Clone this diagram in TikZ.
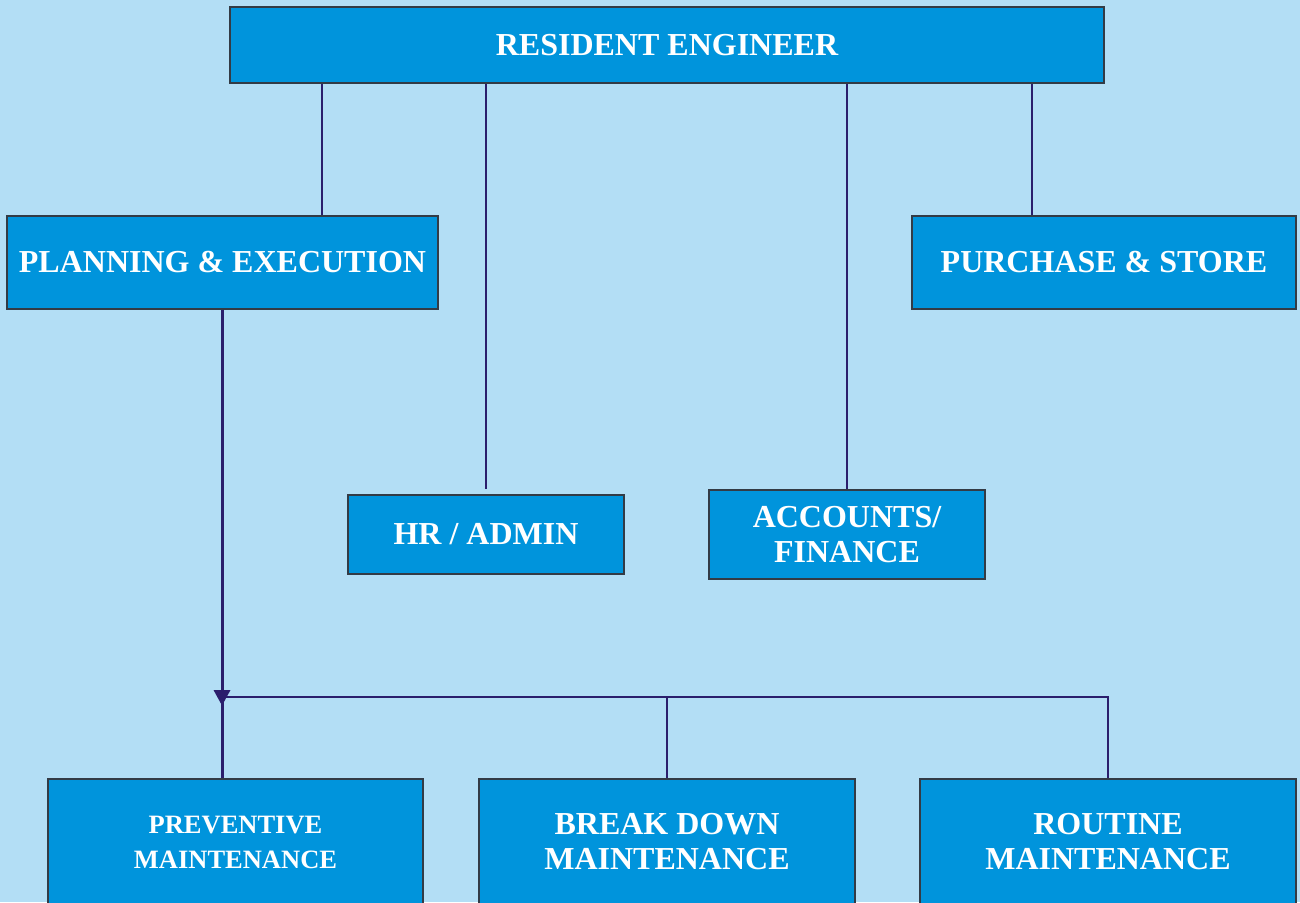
\documentclass[tikz,border=0pt]{standalone}
\usepackage{fontspec}
\setmainfont{Liberation Serif}
\usetikzlibrary{arrows.meta,calc}
\definecolor{bgc}{HTML}{B3DEF5}
\definecolor{boxc}{HTML}{0094DC}
\definecolor{edgec}{HTML}{333B45}
\definecolor{linec}{HTML}{2B1E6C}
\tikzset{
  orgbox/.style={draw=edgec, line width=1.5pt, fill=boxc, text=white, inner sep=0pt, align=center,
    font=\fontsize{32}{35}\selectfont\bfseries},
  smallbox/.style={orgbox, font=\fontsize{26.5}{35}\selectfont\bfseries},
  conn/.style={draw=linec, line width=2.7pt},
}
\begin{document}
\begin{tikzpicture}[x=1pt,y=-1pt]
\useasboundingbox (0,0) rectangle (1300,902);
\clip (0,0) rectangle (1300,902);
\fill[bgc] (0,0) rectangle (1300,902);

\node[orgbox, minimum width=874pt, minimum height=76pt] (RE) at (667,45) {RESIDENT ENGINEER};
\node[orgbox, minimum width=431pt, minimum height=93pt] (PE) at (222.5,262.5) {PLANNING \& EXECUTION};
\node[orgbox, minimum width=384pt, minimum height=93pt] (PS) at (1104,262.5) {PURCHASE \& STORE};
\node[orgbox, minimum width=276pt, minimum height=79pt] (HR) at (486,534.5) {HR / ADMIN};
\node[orgbox, minimum width=276pt, minimum height=89pt] (AF) at (847,534.5) {ACCOUNTS/\\FINANCE};
\node[smallbox, minimum width=375pt, minimum height=126pt] (PM) at (235.5,842) {PREVENTIVE\\MAINTENANCE};
\node[orgbox, minimum width=376pt, minimum height=126pt] (BD) at (667,842) {BREAK DOWN\\MAINTENANCE};
\node[orgbox, minimum width=376pt, minimum height=126pt] (RM) at (1108,842) {ROUTINE\\MAINTENANCE};

\coordinate (x1) at (322,0);
\coordinate (x2) at (486,0);
\coordinate (x3) at (847,0);
\coordinate (x4) at (1032,0);
\coordinate (hr) at (486,489);
\coordinate (bus) at (222,697);

\draw[conn] (RE.south -| x1) -- (PE.north -| x1);
\draw[conn] (RE.south -| x2) -- (hr);
\draw[conn] (RE.south -| x3) -- (AF.north -| x3);
\draw[conn] (RE.south -| x4) -- (PS.north -| x4);

\draw[conn] (PE.south) -- (PM.north -| PE.south);
\fill[linec] ($(bus)+(-8.5,-7)$) -- ($(bus)+(8.5,-7)$) -- ($(bus)+(0,8.5)$) -- cycle;
\draw[conn] (bus) -- (bus -| RM.north) -- (RM.north);
\draw[conn] (bus -| BD.north) -- (BD.north);
\end{tikzpicture}
\end{document}
